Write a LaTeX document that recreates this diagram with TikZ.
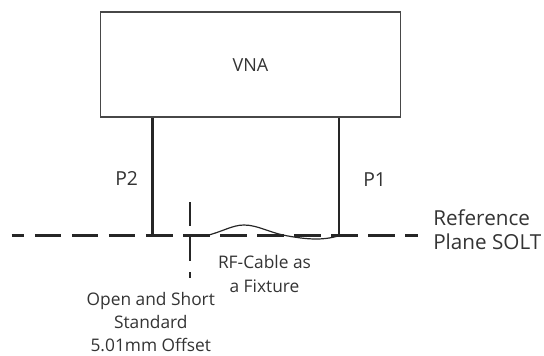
\documentclass[tikz,border=0pt]{standalone}
\usepackage{fontspec}
\setmainfont{Open Sans}
\usepackage{xcolor}
\usetikzlibrary{positioning}
\definecolor{ink}{HTML}{262626}
\definecolor{txt}{HTML}{333333}

\begin{document}
\begin{tikzpicture}[x=0.75pt,y=-0.75pt,
  port/.style={line width=1.6pt,draw=ink},
  refplane/.style={line width=1.9pt,draw=ink,dash pattern=on 19.9pt off 7.9pt,dash phase=10.5pt},
  lbl/.style={inner sep=0pt,text=txt,anchor=base}]
\useasboundingbox (0,0) rectangle (544,355);
% analyser box
\node[draw=ink!85,line width=0.9pt,minimum width=225pt,minimum height=78.75pt,inner sep=0pt] (vna) at (250.5,64.5) {};
\node[lbl,font=\fontsize{13.5}{16}\selectfont] (vnatxt) at (250.5,71) {VNA};
% ports
\coordinate (P2end) at (152.5,235.7);
\coordinate (P1end) at (339,235.7);
\draw[port] (vna.south -| P2end) -- (P2end);
\draw[port] (vna.south -| P1end) -- (P1end);
\node[lbl,anchor=base west,font=\fontsize{14.5}{17}\selectfont] (p2) at (115,185) {P2};
\node[lbl,anchor=base west,font=\fontsize{14.5}{17}\selectfont] (p1) at (363,186) {P1};
% reference plane
\coordinate (refL) at (11.7,235.7);
\coordinate (refR) at (418,235.7);
\draw[refplane] (refL) -- (refR);
\node[lbl,anchor=base west,align=left,font=\fontsize{15.5}{18}\selectfont] (reftxt) at (433,249) {Reference\\Plane SOLT};
% offset standard marker
\coordinate (offT) at (190,202);
\coordinate (offB) at (190,278);
\draw[line width=1.9pt,draw=ink,dash pattern=on 18pt off 8.25pt] (offT) -- (offB);
\node[lbl,align=center,font=\fontsize{13}{17.25}\selectfont] (offtxt) at (150.8,351) {Open and Short\\Standard\\5.01mm Offset};
% cable
\coordinate (cabA) at (206,235.7);
\draw[ink,line width=0.9pt] (cabA) .. controls (222,232) and (232,225) .. (244,225)
  .. controls (258,225) and (270,233) .. (288,236)
  .. controls (305,239) and (322,241) .. (P1end);
\node[lbl,align=center,font=\fontsize{13}{18}\selectfont] (cabtxt) at (264.5,292) {RF-Cable as\\a Fixture};
\end{tikzpicture}
\end{document}
